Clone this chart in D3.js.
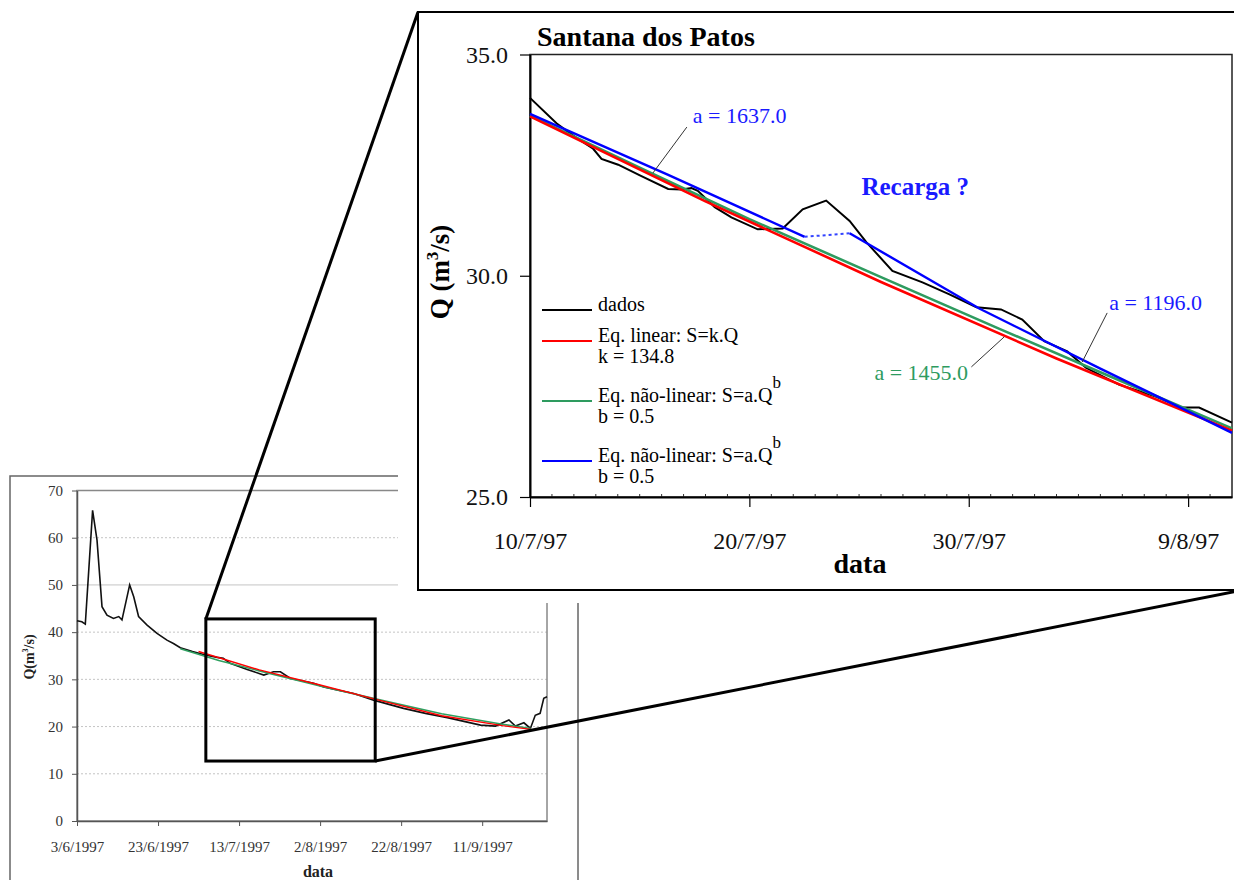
<!DOCTYPE html>
<html>
<head>
<meta charset="utf-8">
<script src="https://d3js.org/d3.v7.min.js"></script>
<style>
  body { margin: 0; background: #fff; }
  svg { display: block; font-family: "Liberation Serif", "Times New Roman", serif; }
</style>
</head>
<body>
<svg id="fig" width="1234" height="880"></svg>
<script>
// ---- dados: hidrograma completo (dias desde 3/6/1997) ----
var serieDias = [0, 1.2, 2.05, 3.85, 4.94, 6.17, 7.4, 9.0, 10.3, 11.1, 13.0, 14.0, 15.2, 17.3, 19.75, 22.2, 23.8, 25.5, 28.5,
  31.7, 34.6, 36.1, 37.8, 42, 46.1, 48.5, 50.2, 52.7, 55.5, 58.4, 60.9, 64.5, 68.3, 73.2, 77, 80.6, 86, 91.4, 95.5,
  99.6, 103.3, 106.6, 108.2, 110.3, 111.9, 113.1, 114.3, 115.2, 116.0];
var serieVazao = [42.4, 42.2, 41.7, 65.8, 59.5, 45.4, 43.6, 42.9, 43.3, 42.6, 50.0, 47.5, 43.3, 41.5, 39.75, 38.3, 37.6, 36.7, 35.9,
  35.15, 34.66, 34.45, 33.4, 32.1, 30.9, 31.6, 31.6, 30.2, 29.7, 29.15, 28.4, 27.7, 27.0, 25.6, 24.7, 23.85, 22.8, 21.9, 21.1,
  20.3, 20.1, 21.4, 20.1, 20.8, 19.6, 22.4, 22.8, 26.0, 26.3];
var linGrandeDias = [30, 45, 60, 75, 90, 105, 112];
var linGrandeVazao = [35.9, 32.0, 28.8, 25.5, 22.3, 20.2, 19.4];
var naoLinGrandeDias = [25.5, 35, 45, 60, 75, 90, 105, 112];
var naoLinGrandeVazao = [36.5, 34.0, 31.8, 28.6, 25.6, 22.7, 20.5, 19.6];
var caixaDias = [31.8, 73.6];
var caixaVazao = [12.7, 42.8];
var ticksGrandeDias = [0, 20, 40, 60, 80, 100];
var ticksGrandeVazao = [0, 10, 20, 30, 40, 50, 60, 70];
var gradeVazao = [10, 20, 30, 40, 50, 60];

// ---- dados: detalhe Santana dos Patos (dias desde 10/7/97) ----
var dadosDias = [0, 1.22, 2.05, 2.88, 3.26, 4.02, 5.08, 6.3, 6.9, 7.36, 7.65, 8.42, 9.18, 10.38, 11.52, 12.43, 13.5, 14.57,
  15.33, 16.52, 17.89, 19.12, 20.35, 21.47, 22.44, 23.44, 24.49, 25.34, 26.85, 28.52, 29.72, 30.5, 32];
var dadosVazao = [34.02, 33.44, 33.14, 32.87, 32.64, 32.51, 32.25, 31.96, 31.95, 31.98, 31.92, 31.55, 31.32, 31.05, 31.07, 31.5,
  31.7, 31.24, 30.76, 30.11, 29.85, 29.58, 29.29, 29.24, 29.01, 28.52, 28.29, 27.92, 27.54, 27.27, 27.02, 27.02, 26.68];
var linearDias = [0, 8, 16, 24, 32];
var linearVazao = [33.6, 31.68, 29.86, 28.13, 26.5];
var verdeDias = [0, 5, 10, 16, 21.4, 26, 32];
var verdeVazao = [33.62, 32.44, 31.28, 29.97, 28.8, 27.82, 26.55];
var azul1Dias = [0, 6.3, 12.52];
var azul1Vazao = [33.66, 32.28, 30.88];
var azulPontDias = [12.52, 14.57];
var azulPontVazao = [30.88, 30.96];
var azul2Dias = [14.57, 20.48, 26, 29.6, 32];
var azul2Vazao = [30.96, 29.26, 27.9, 27.03, 26.45];
var ticksZoomDias = [0, 10, 20, 30];
var ticksZoomVazao = [25, 30, 35];

var svg = d3.select("#fig");
var base1 = new Date(1997, 5, 3), base2 = new Date(1997, 6, 10);
function dia1(d) { return new Date(base1.getTime() + d * 864e5); }
function dia2(d) { return new Date(base2.getTime() + d * 864e5); }

// ================= grafico completo =================
var sx = d3.scaleTime().domain([dia1(0), dia1(116)]).range([77, 547]);
var sy = d3.scaleLinear().domain([0, 70]).range([821, 490.5]);

svg.append("rect").attr("x", 10).attr("y", 476).attr("width", 568).attr("height", 430)
  .attr("fill", "none").attr("stroke", "#666").attr("stroke-width", 1.5);

svg.append("g").selectAll("line").data(gradeVazao).join("line")
  .attr("x1", 77).attr("x2", 547).attr("y1", d => sy(d)).attr("y2", d => sy(d))
  .attr("stroke", "#c4c4c4").attr("stroke-width", 1)
  .attr("stroke-dasharray", d => d === 50 ? null : "2,2");

svg.append("rect").attr("x", 77).attr("y", sy(70)).attr("width", 470).attr("height", sy(0) - sy(70))
  .attr("fill", "none").attr("stroke", "#888").attr("stroke-width", 1.5);

var gy1 = svg.append("g").attr("transform", "translate(77,0)")
  .call(d3.axisLeft(sy).tickValues(ticksGrandeVazao).tickSize(5).tickSizeOuter(0).tickPadding(9));
var gx1 = svg.append("g").attr("transform", "translate(0,821)")
  .call(d3.axisBottom(sx).tickValues(ticksGrandeDias.map(dia1)).tickFormat(d3.timeFormat("%-d/%-m/%Y"))
    .tickSize(5).tickSizeOuter(0).tickPadding(15));
[gy1, gx1].forEach(function (g) {
  g.select(".domain").attr("stroke", "#555").attr("stroke-width", 1.5);
  g.selectAll(".tick line").attr("stroke", "#555");
  g.selectAll("text").attr("font-family", "Liberation Serif, serif").attr("font-size", 15).attr("fill", "#333");
});

var linha1 = d3.line().x(d => sx(dia1(d[0]))).y(d => sy(d[1]));
svg.append("path").datum(d3.zip(serieDias, serieVazao)).attr("d", linha1)
  .attr("fill", "none").attr("stroke", "#111").attr("stroke-width", 1.6);
svg.append("path").datum(d3.zip(naoLinGrandeDias, naoLinGrandeVazao)).attr("d", linha1)
  .attr("fill", "none").attr("stroke", "#2fa060").attr("stroke-width", 1.6);
svg.append("path").datum(d3.zip(linGrandeDias, linGrandeVazao)).attr("d", linha1)
  .attr("fill", "none").attr("stroke", "#ff0000").attr("stroke-width", 1.4);

var yl1 = svg.append("text").attr("transform", "translate(34,657) rotate(-90)")
  .attr("text-anchor", "middle").attr("font-weight", "bold").attr("font-size", 14).attr("fill", "#222");
yl1.append("tspan").text("Q(m");
yl1.append("tspan").attr("font-size", 8).attr("dy", -6).text("3");
yl1.append("tspan").attr("dy", 6).text("/s)");
svg.append("text").attr("x", 318).attr("y", 877).attr("text-anchor", "middle")
  .attr("font-weight", "bold").attr("font-size", 16).attr("fill", "#222").text("data");

// caixa de zoom
var cx0 = sx(dia1(caixaDias[0])), cx1 = sx(dia1(caixaDias[1]));
var cy0 = sy(caixaVazao[1]), cy1 = sy(caixaVazao[0]);

// ================= detalhe =================
svg.append("rect").attr("x", 398).attr("y", 0).attr("width", 836).attr("height", 603).attr("fill", "#fff");
svg.append("rect").attr("x", 418).attr("y", 12).attr("width", 830).attr("height", 578)
  .attr("fill", "#fff").attr("stroke", "#000").attr("stroke-width", 2);

var ix = d3.scaleTime().domain([dia2(0), dia2(32)]).range([530, 1232]);
var iy = d3.scaleLinear().domain([25, 35]).range([497, 54.5]);

svg.append("rect").attr("x", 530).attr("y", iy(35)).attr("width", 1232 - 530).attr("height", iy(25) - iy(35))
  .attr("fill", "none").attr("stroke", "#222").attr("stroke-width", 1.5);

// marcas menores diarias
svg.append("g").selectAll("line").data(d3.range(1, 32)).join("line")
  .attr("x1", d => ix(dia2(d))).attr("x2", d => ix(dia2(d)))
  .attr("y1", iy(25)).attr("y2", iy(25) - 3).attr("stroke", "#333").attr("stroke-width", 1);

var gy2 = svg.append("g").attr("transform", "translate(530,0)")
  .call(d3.axisLeft(iy).tickValues(ticksZoomVazao).tickFormat(d3.format(".1f")).tickSize(10).tickSizeOuter(0).tickPadding(12));
var gx2 = svg.append("g").attr("transform", "translate(0,497)")
  .call(d3.axisBottom(ix).tickValues(ticksZoomDias.map(dia2)).tickFormat(d3.timeFormat("%-d/%-m/%y"))
    .tickSize(10).tickSizeOuter(0).tickPadding(25));
[gy2, gx2].forEach(function (g) {
  g.select(".domain").attr("stroke", "#000").attr("stroke-width", 2);
  g.selectAll(".tick line").attr("stroke", "#000").attr("stroke-width", 1.2);
  g.selectAll("text").attr("font-family", "Liberation Serif, serif").attr("font-size", 24).attr("fill", "#111");
});

var linha2 = d3.line().x(d => ix(dia2(d[0]))).y(d => iy(d[1]));
svg.append("path").datum(d3.zip(dadosDias, dadosVazao)).attr("d", linha2)
  .attr("fill", "none").attr("stroke", "#000").attr("stroke-width", 2);
svg.append("path").datum(d3.zip(verdeDias, verdeVazao)).attr("d", linha2)
  .attr("fill", "none").attr("stroke", "#2e9b5f").attr("stroke-width", 2.6);
svg.append("path").datum(d3.zip(linearDias, linearVazao)).attr("d", linha2)
  .attr("fill", "none").attr("stroke", "#ff0000").attr("stroke-width", 2.6);
svg.append("path").datum(d3.zip(azul1Dias, azul1Vazao)).attr("d", linha2)
  .attr("fill", "none").attr("stroke", "#0000ff").attr("stroke-width", 2.4);
svg.append("path").datum(d3.zip(azulPontDias, azulPontVazao)).attr("d", linha2)
  .attr("fill", "none").attr("stroke", "#3344ff").attr("stroke-width", 2).attr("stroke-dasharray", "3,3");
svg.append("path").datum(d3.zip(azul2Dias, azul2Vazao)).attr("d", linha2)
  .attr("fill", "none").attr("stroke", "#0000ff").attr("stroke-width", 2.4);

// titulos
svg.append("text").attr("x", 537).attr("y", 46).attr("font-weight", "bold").attr("font-size", 28).text("Santana dos Patos");
svg.append("text").attr("x", 860).attr("y", 573).attr("text-anchor", "middle")
  .attr("font-weight", "bold").attr("font-size", 28).text("data");
var yl2 = svg.append("text").attr("transform", "translate(449,272) rotate(-90)")
  .attr("text-anchor", "middle").attr("font-weight", "bold").attr("font-size", 27);
yl2.append("tspan").text("Q  (m");
yl2.append("tspan").attr("font-size", 17).attr("dy", -11).text("3");
yl2.append("tspan").attr("dy", 11).text("/s)");

// anotacoes (posicoes em unidades do grafico)
var notas = [
  { txt: "a = 1637.0", cor: "#1a1aff", at: [7.42, 33.45], seg: [[7.15, 33.36], [5.6, 32.32]] },
  { txt: "a = 1196.0", cor: "#1a1aff", at: [26.4, 29.23], seg: [[26.31, 29.16], [25.17, 28.05]] },
  { txt: "a = 1455.0", cor: "#2e9b5f", at: [15.7, 27.64], seg: [[20.12, 27.94], [21.62, 28.62]] }
];
notas.forEach(function (n) {
  svg.append("line").attr("x1", ix(dia2(n.seg[0][0]))).attr("y1", iy(n.seg[0][1]))
    .attr("x2", ix(dia2(n.seg[1][0]))).attr("y2", iy(n.seg[1][1])).attr("stroke", "#333").attr("stroke-width", 1);
  svg.append("text").attr("x", ix(dia2(n.at[0]))).attr("y", iy(n.at[1]))
    .attr("font-size", 22).attr("fill", n.cor).text(n.txt);
});
svg.append("text").attr("x", ix(dia2(15.11))).attr("y", iy(31.82)).attr("font-weight", "bold")
  .attr("font-size", 25).attr("fill", "#1a1aff").text("Recarga ?");

// legenda
var legenda = [
  { cor: "#000", y: 310, l1: "dados", sup: false, l2: null },
  { cor: "#ff0000", y: 341, l1: "Eq. linear: S=k.Q", sup: false, l2: "k = 134.8" },
  { cor: "#2e9b5f", y: 401, l1: "Eq. não-linear: S=a.Q", sup: true, l2: "b = 0.5" },
  { cor: "#0000ff", y: 461, l1: "Eq. não-linear: S=a.Q", sup: true, l2: "b = 0.5" }
];
legenda.forEach(function (r) {
  svg.append("line").attr("x1", 542).attr("x2", 592).attr("y1", r.y).attr("y2", r.y)
    .attr("stroke", r.cor).attr("stroke-width", 2);
  var t = svg.append("text").attr("x", 598).attr("y", r.y + 1).attr("font-size", 20);
  t.append("tspan").text(r.l1);
  if (r.sup) t.append("tspan").attr("font-size", 17).attr("dy", -14).text("b");
  if (r.l2) svg.append("text").attr("x", 598).attr("y", r.y + 22).attr("font-size", 20).text(r.l2);
});

// caixa e linhas de ligacao
svg.append("rect").attr("x", cx0).attr("y", cy0).attr("width", cx1 - cx0).attr("height", cy1 - cy0)
  .attr("fill", "none").attr("stroke", "#000").attr("stroke-width", 3);
svg.append("line").attr("x1", cx0).attr("y1", cy0).attr("x2", 418).attr("y2", 12)
  .attr("stroke", "#000").attr("stroke-width", 3);
svg.append("line").attr("x1", cx1).attr("y1", cy1).attr("x2", 1238).attr("y2", 591)
  .attr("stroke", "#000").attr("stroke-width", 3);
</script>
</body>
</html>
